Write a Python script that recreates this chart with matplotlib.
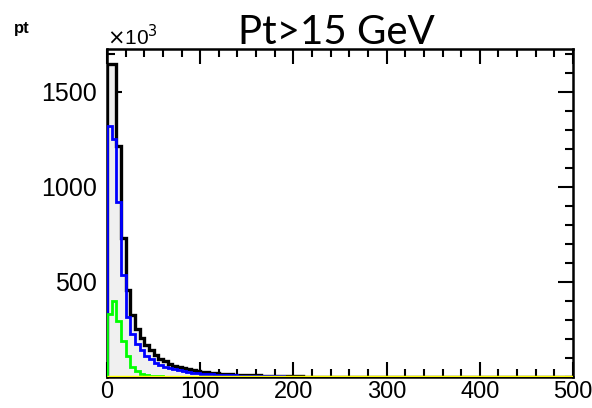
import numpy as np
import matplotlib
matplotlib.use("Agg")
import matplotlib.pyplot as plt
import matplotlib.transforms as mtransforms
from matplotlib.ticker import MultipleLocator

# pt spectra, 5 GeV bins from 0 to 500, counts in units of 10^3
edges = np.arange(0, 505, 5)

black = [1647, 1647, 1216, 730, 458, 326, 250, 205, 170, 140,
         115, 97, 82, 70, 60, 52, 46, 40, 36, 32,
         28, 25, 22, 20, 18, 16, 14, 13, 12, 11,
         10, 9, 8, 7, 7, 6, 5, 5, 4, 4,
         3, 3, 2, 2, 2, 1, 1, 1]
blue = [1321, 1253, 921, 537, 316, 225, 175, 140, 112, 92,
        76, 63, 53, 46, 40, 35, 30, 26, 23, 20,
        18, 16, 14, 12, 11, 10, 9, 8, 7, 6,
        6, 5, 5, 4, 4, 3, 3, 3, 2, 2,
        2, 2, 1, 1, 1, 1, 1]
green = [330, 400, 295, 190, 110, 55, 32, 18, 10, 6,
         4, 3, 2, 1, 1, 1]
yellow = [0.0] * 100


def pad(vals):
    return np.array(vals + [0.0] * (100 - len(vals)), dtype=float)


fig = plt.figure(figsize=(5.92, 4.08), dpi=100)
ax = fig.add_axes([0.1807, 0.076, 0.7872, 0.804])
ax.set_axisbelow(True)

ax.stairs(pad(black), edges, fill=True, color='#f0f0f0', zorder=1)
ax.stairs(pad(black), edges, baseline=0, color='black', lw=2.4, zorder=2)
ax.stairs(pad(blue), edges, baseline=0, color='#0000ff', lw=2.0, zorder=3)
ax.stairs(pad(green), edges, baseline=0, color='#00ff00', lw=2.0, zorder=4)
ax.stairs(pad(yellow), edges, baseline=0, color='#ffff00', lw=2.5, zorder=5)

ax.set_xlim(0, 500)
ax.set_ylim(0, 1725)

ax.xaxis.set_major_locator(MultipleLocator(100))
ax.xaxis.set_minor_locator(MultipleLocator(20))
ax.yaxis.set_major_locator(MultipleLocator(500))
ax.yaxis.set_minor_locator(MultipleLocator(100))
ax.tick_params(which='both', direction='in', top=True, right=True,
               width=1.5)
ax.tick_params(axis='y', pad=7, labelsize=18)
ax.tick_params(axis='x', pad=3, labelsize=17)
ax.tick_params(which='major', length=11)
ax.tick_params(which='minor', length=6)
ax.set_yticks([500, 1000, 1500])
for s in ax.spines.values():
    s.set_linewidth(1.8)

plt.rcParams['font.family'] = ['Liberation Sans', 'DejaVu Sans']
for lab in ax.get_xticklabels() + ax.get_yticklabels():
    lab.set_family('Liberation Sans')

# keep the last x label inside the canvas
last = ax.get_xticklabels()[-1]
last.set_transform(last.get_transform() +
                   mtransforms.ScaledTranslation(-7 / 100, 0, fig.dpi_scale_trans))

fig.text(0.5676, 0.892, 'Pt>15 GeV', ha='center', va='baseline',
         fontsize=29, family=['Lato', 'DejaVu Sans'])
fig.text(0.024, 0.931, 'pt', ha='left', va='center', fontsize=12,
         fontweight='bold', family='Liberation Sans')
fig.text(0.1807, 0.888, r'$\times$10$^{3}$', ha='left', va='baseline',
         fontsize=15, family='Liberation Sans')

fig.savefig('out.png', dpi=100)
